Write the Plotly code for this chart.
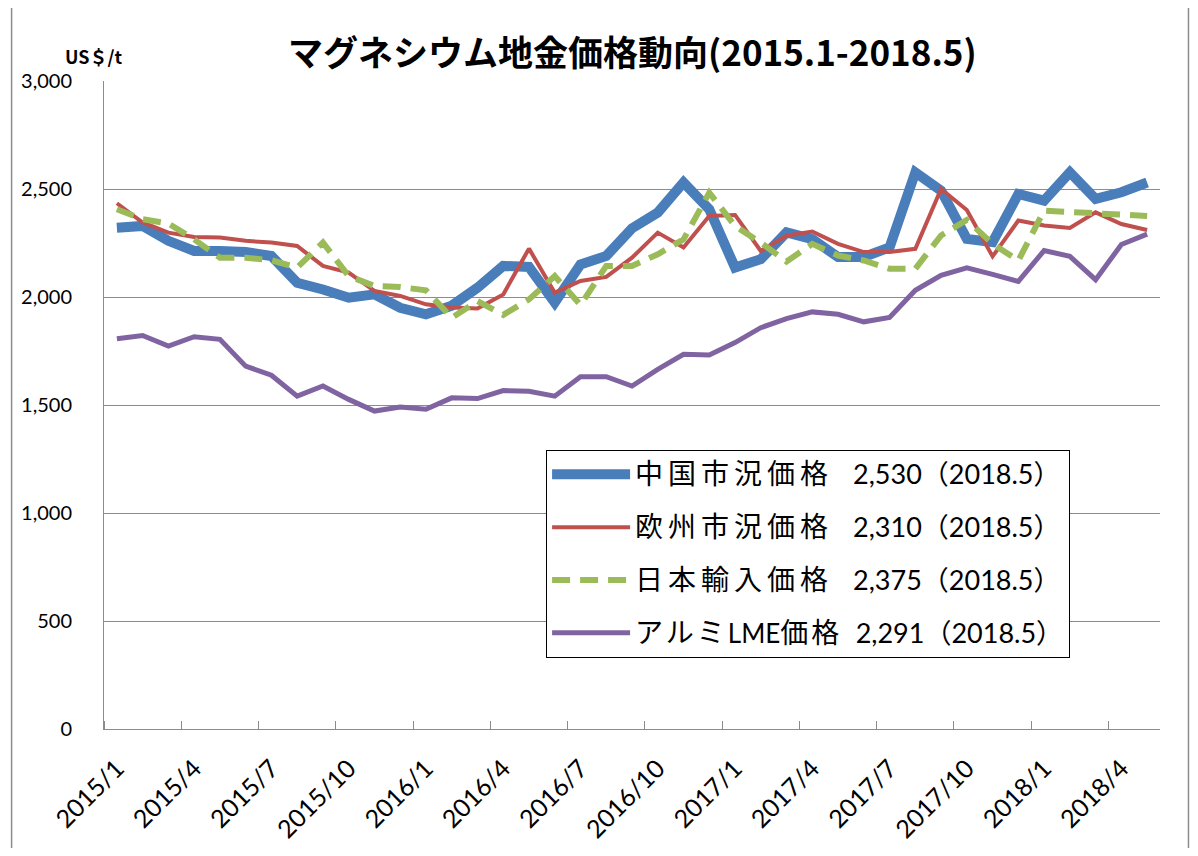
import plotly.graph_objects as go

# ---- data ----
months = [f"{y}/{m}" for y in (2015, 2016, 2017, 2018) for m in range(1, 13)][:41]

china = [2321, 2329, 2260, 2213, 2213, 2208, 2190, 2066, 2035, 1997, 2012, 1950, 1920,
         1960, 2043, 2144, 2139, 1974, 2151, 2190, 2318, 2391, 2530, 2406, 2136, 2175,
         2299, 2268, 2185, 2185, 2230, 2577, 2492, 2269, 2254, 2477, 2446, 2577, 2454,
         2485, 2530]
europe = [2434, 2345, 2298, 2278, 2275, 2260, 2252, 2236, 2144, 2113, 2028, 2005, 1966,
          1951, 1947, 2012, 2224, 2020, 2074, 2093, 2182, 2298, 2229, 2375, 2380, 2213,
          2284, 2303, 2246, 2208, 2208, 2223, 2500, 2403, 2188, 2354, 2331, 2320, 2392,
          2338, 2310]
japan = [2406, 2360, 2340, 2267, 2182, 2182, 2170, 2136, 2252, 2097, 2051, 2046, 2031,
         1904, 1981, 1917, 1989, 2097, 1963, 2144, 2144, 2198, 2267, 2483, 2329, 2252,
         2164, 2246, 2192, 2169, 2131, 2131, 2285, 2357, 2246, 2169, 2400, 2395, 2388,
         2380, 2375]
alumi = [1807, 1822, 1773, 1816, 1804, 1680, 1638, 1541, 1588, 1526, 1472, 1491, 1480,
         1533, 1530, 1567, 1564, 1541, 1631, 1631, 1588, 1665, 1735, 1732, 1789, 1858,
         1900, 1931, 1920, 1885, 1905, 2031, 2100, 2135, 2105, 2072, 2215, 2188, 2080,
         2243, 2291]

series_names = [["中国市況価格"], ["欧州市況価格"], ["日本輸入価格"], ["アルミ", "LME", "価格"]]
latest_labels = ["2,530（2018.5）", "2,310（2018.5）", "2,375（2018.5）", "2,291（2018.5）"]
label_idx = list(range(0, len(months), 3))
tick_labels = [months[i] for i in label_idx]

title_text = "マグネシウム地金価格動向(2015.1-2018.5)"
unit_text = "US＄/t"

# ---- layout constants (page coords; page body has an 8px margin) ----
OFF = 8
W, H = 1182, 840
PL, PR, PT, PB = 103.5, 1160.5, 80.5, 729.5   # plot area in page px
L, R, T, B = PL - OFF, W - (PR - OFF), PT - OFF, H - (PB - OFF)
PW, PH = W - L - R, H - T - B


def px_x(px):
    return (px - OFF - L) / PW


def px_y(py):
    return (H - B - (py - OFF)) / PH


CJK = "Noto Sans CJK JP"
LAT = "Lato"

styles = [
    dict(color="#4A7EBB", width=10),
    dict(color="#C0504D", width=4),
    dict(color="#9BBB59", width=6, dash="18px,10px"),
    dict(color="#8064A2", width=5),
]
values = [china, europe, japan, alumi]


def legend_label(parts, lab):
    out = ""
    multi = len(parts) > 1
    for p in parts:
        if p.isascii():
            out += f'<span style="font-size:26px">{p}</span>'
        else:
            sp = 3 if multi else 5
            out += (f'<span style="font-family:{CJK};font-size:28px;'
                    f'letter-spacing:{sp}px">{p}</span>')
    gap = "\u00a0\u00a0" if multi else "\u00a0\u00a0\u00a0"
    return out + gap + f'<span style="font-size:27px">{lab}</span>'


fig = go.Figure()
x_idx = list(range(len(months)))
for i, (parts, lab, vals, st) in enumerate(zip(series_names, latest_labels, values, styles)):
    fig.add_trace(go.Scatter(
        x=x_idx, y=vals, mode="lines", name=legend_label(parts, lab),
        legendgroup=f"g{i}", line=st, hoverinfo="skip",
    ))

fig.update_layout(
    width=W, height=H,
    margin=dict(l=L, r=R, t=T, b=B, autoexpand=False),
    paper_bgcolor="white", plot_bgcolor="white",
    font=dict(family=f"{LAT}, {CJK}", color="black"),
    showlegend=True,
    legend=dict(
        x=px_x(546), y=px_y(450), xanchor="left", yanchor="top",
        bgcolor="white", bordercolor="black", borderwidth=1,
        font=dict(family=f"{LAT}, {CJK}", size=26, color="black"),
        traceorder="grouped", tracegroupgap=16, itemwidth=78,
    ),
    xaxis=dict(
        range=[-0.5, len(months) - 0.5],
        tickmode="array", tickvals=label_idx, ticktext=tick_labels,
        ticks="", tickangle=-45, ticklabelstandoff=14,
        tickfont=dict(family=LAT, size=25, color="black"),
        minor=dict(tickmode="linear", tick0=-0.5, dtick=3, ticks="inside",
                   ticklen=8, tickcolor="#8c8c8c", showgrid=False),
        showgrid=False, showline=True, linecolor="#8c8c8c", linewidth=1,
        zeroline=False,
    ),
    yaxis=dict(
        range=[0, 3000], tickmode="linear", tick0=0, dtick=500,
        tickformat=",d", tickfont=dict(family=LAT, size=20, color="black"),
        showgrid=True, gridcolor="#8c8c8c", gridwidth=1,
        showline=True, linecolor="#8c8c8c", linewidth=1,
        zeroline=False, ticks="", ticklabelstandoff=27,
    ),
    annotations=[
        dict(text=f"<b>{title_text}</b>", xref="paper", yref="paper",
             x=px_x(632), y=px_y(50), xanchor="center", yanchor="middle",
             showarrow=False, font=dict(family=CJK, size=35, color="black")),
        dict(text=f"<b>{unit_text}</b>", xref="paper", yref="paper",
             x=px_x(93), y=px_y(55), xanchor="center", yanchor="middle",
             showarrow=False, font=dict(family=CJK, size=18, color="black")),
    ],
    shapes=[
        dict(type="rect", xref="paper", yref="paper",
             x0=px_x(11), x1=px_x(1189), y0=px_y(880), y1=px_y(5),
             line=dict(color="#8c8c8c", width=1.5), fillcolor="rgba(0,0,0,0)",
             layer="below"),
    ],
)

fig.write_html("out.html")
